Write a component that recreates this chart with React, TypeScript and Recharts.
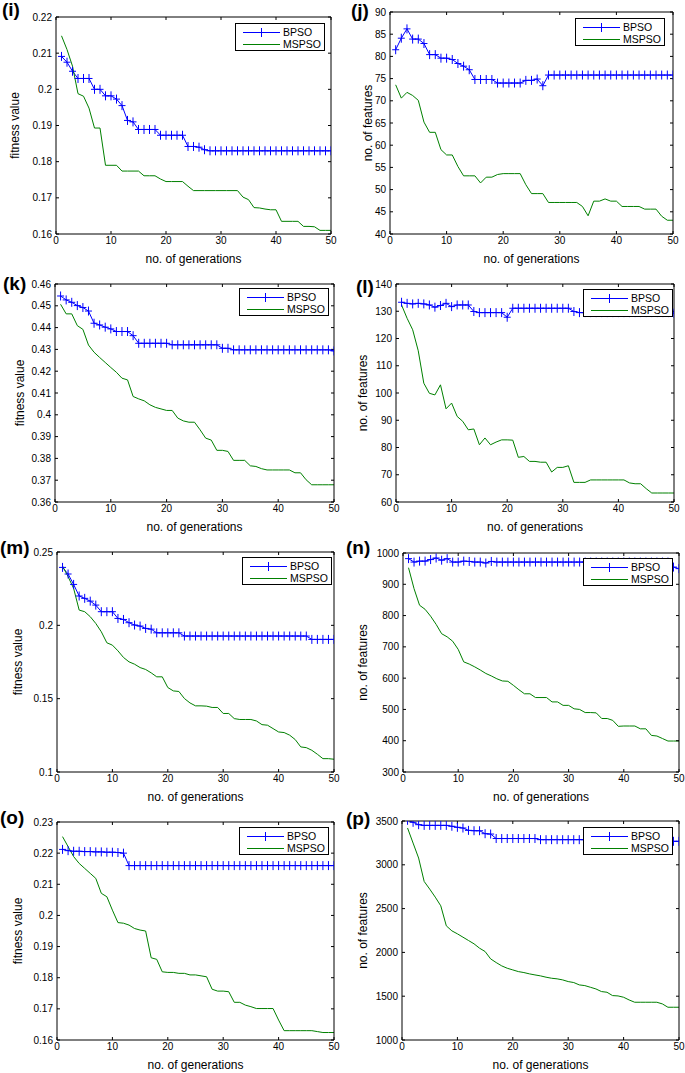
import { LineChart, Line, XAxis, YAxis, Legend, Label } from "recharts";

const generations = [
  1, 2, 3, 4, 5, 6, 7, 8, 9, 10, 11, 12, 13, 14, 15, 16, 17, 18, 19, 20, 21, 22, 23, 24, 25,
  26, 27, 28, 29, 30, 31, 32, 33, 34, 35, 36, 37, 38, 39, 40, 41, 42, 43, 44, 45, 46, 47, 48, 49, 50,
];
const genTicks = [0, 10, 20, 30, 40, 50];

// (i) fitness value
const bpsoI = [
  0.2091, 0.2075, 0.205, 0.203, 0.203, 0.203, 0.2, 0.2, 0.1982, 0.1982,
  0.1973, 0.1955, 0.1914, 0.191, 0.1889, 0.1889, 0.1889, 0.1889, 0.1873, 0.1873,
  0.1873, 0.1873, 0.1873, 0.1842, 0.1842, 0.184, 0.1833, 0.183, 0.183, 0.183,
  0.183, 0.183, 0.183, 0.183, 0.183, 0.183, 0.183, 0.183, 0.183, 0.183,
  0.183, 0.183, 0.183, 0.183, 0.183, 0.183, 0.183, 0.183, 0.183, 0.183,
];
const mspsoI = [
  0.2148, 0.211, 0.2064, 0.1988, 0.1981, 0.1948, 0.1893, 0.1893, 0.179, 0.179,
  0.179, 0.1774, 0.1774, 0.1774, 0.1774, 0.1761, 0.1761, 0.1761, 0.1752, 0.1745,
  0.1745, 0.1745, 0.1745, 0.1732, 0.172, 0.172, 0.172, 0.172, 0.172, 0.172,
  0.172, 0.172, 0.172, 0.1702, 0.1695, 0.1673, 0.1672, 0.1669, 0.1667, 0.1667,
  0.1635, 0.1635, 0.1635, 0.1635, 0.1621, 0.1621, 0.162, 0.161, 0.161, 0.161,
];
const ticksI = [0.16, 0.17, 0.18, 0.19, 0.2, 0.21, 0.22];

// (j) no. of features
const bpsoJ = [
  81.5, 84.1, 86.2, 83.9, 83.9, 82.9, 80.4, 80.4, 79.6, 79.6,
  79.3, 78.4, 77.8, 77.0, 74.8, 74.8, 74.8, 74.8, 74.0, 74.0,
  74.0, 74.0, 74.0, 74.6, 74.6, 74.9, 73.4, 75.8, 75.8, 75.8,
  75.8, 75.8, 75.8, 75.8, 75.8, 75.8, 75.8, 75.8, 75.8, 75.8,
  75.8, 75.8, 75.8, 75.8, 75.8, 75.8, 75.8, 75.8, 75.8, 75.8,
];
const mspsoJ = [
  73.6, 70.6, 71.9, 71.2, 70.1, 65.2, 62.9, 62.9, 59.0, 57.8,
  57.8, 55.2, 53.1, 53.1, 53.1, 51.5, 52.8, 52.8, 53.4, 53.6,
  53.6, 53.6, 53.6, 51.1, 49.1, 49.1, 49.1, 47.1, 47.1, 47.1,
  47.1, 47.1, 47.1, 46.2, 44.1, 47.4, 47.4, 47.9, 47.4, 47.4,
  46.2, 46.2, 46.2, 46.2, 45.6, 45.6, 45.6, 44.0, 43.1, 43.1,
];
const ticksJ = [40, 45, 50, 55, 60, 65, 70, 75, 80, 85, 90];

// (k) fitness value
const bpsoK = [
  0.4545, 0.4527, 0.4516, 0.4501, 0.4492, 0.4476, 0.442, 0.4412, 0.4402, 0.4394,
  0.4382, 0.4382, 0.4382, 0.4363, 0.4328, 0.4328, 0.4328, 0.4328, 0.4328, 0.4328,
  0.4321, 0.4321, 0.4321, 0.4321, 0.4321, 0.4321, 0.4321, 0.4321, 0.4321, 0.4305,
  0.4305, 0.4298, 0.4298, 0.4298, 0.4298, 0.4298, 0.4298, 0.4298, 0.4298, 0.4298,
  0.4298, 0.4298, 0.4298, 0.4298, 0.4298, 0.4298, 0.4298, 0.4298, 0.4298, 0.4293,
];
const mspsoK = [
  0.4507, 0.4463, 0.4463, 0.4409, 0.4392, 0.432, 0.4287, 0.4263, 0.424, 0.4217,
  0.4195, 0.4168, 0.416, 0.4084, 0.4073, 0.4064, 0.4046, 0.4034, 0.4027, 0.402,
  0.402, 0.3985, 0.3972, 0.3966, 0.3966, 0.3931, 0.3893, 0.3884, 0.3837, 0.3837,
  0.3832, 0.3791, 0.3791, 0.3791, 0.3766, 0.3763, 0.3753, 0.3747, 0.3747, 0.3747,
  0.3747, 0.3747, 0.3734, 0.3734, 0.3702, 0.3679, 0.3679, 0.3679, 0.3679, 0.3679,
];
const ticksK = [0.36, 0.37, 0.38, 0.39, 0.4, 0.41, 0.42, 0.43, 0.44, 0.45, 0.46];

// (l) no. of features
const bpsoL = [
  133.3, 132.9, 132.7, 132.9, 132.7, 132.3, 131.5, 132.1, 132.9, 131.7,
  132.3, 132.3, 132.3, 129.9, 129.5, 129.5, 129.5, 129.5, 129.5, 127.8,
  131.1, 131.1, 131.1, 131.1, 131.1, 131.1, 131.1, 131.1, 131.1, 131.1,
  131.1, 129.9, 129.5, 129.5, 129.5, 129.5, 129.5, 129.5, 129.5, 129.5,
  129.5, 129.5, 129.5, 129.5, 129.5, 129.5, 129.5, 129.5, 129.5, 129.3,
];
const mspsoL = [
  132.3, 127.4, 123.2, 115.5, 103.6, 99.9, 99.3, 103.0, 94.2, 96.3,
  91.4, 89.6, 86.5, 86.8, 81.0, 83.5, 81.0, 82.0, 82.8, 82.8,
  82.7, 76.4, 76.7, 74.9, 74.9, 74.6, 74.6, 71.0, 72.7, 72.7,
  73.3, 67.2, 67.2, 67.2, 68.1, 68.1, 68.1, 68.1, 68.1, 68.1,
  68.1, 67.0, 66.7, 66.7, 64.9, 63.3, 63.3, 63.3, 63.3, 63.3,
];
const ticksL = [60, 70, 80, 90, 100, 110, 120, 130, 140];

// (m) fitness value
const bpsoM = [
  0.2395, 0.235, 0.2279, 0.22, 0.2184, 0.2165, 0.2138, 0.2093, 0.2093, 0.2093,
  0.2047, 0.204, 0.2018, 0.2002, 0.1995, 0.1979, 0.1974, 0.1949, 0.1949, 0.1949,
  0.1949, 0.1949, 0.1927, 0.1927, 0.1927, 0.1927, 0.1927, 0.1927, 0.1927, 0.1927,
  0.1927, 0.1927, 0.1927, 0.1927, 0.1927, 0.1927, 0.1927, 0.1927, 0.1927, 0.1927,
  0.1927, 0.1927, 0.1927, 0.1927, 0.1927, 0.1904, 0.1904, 0.1904, 0.1904, 0.1904,
];
const mspsoM = [
  0.2404, 0.2332, 0.2252, 0.2104, 0.2093, 0.2059, 0.2013, 0.1956, 0.1881, 0.1865,
  0.1826, 0.1781, 0.1751, 0.1735, 0.1712, 0.1699, 0.1676, 0.1649, 0.1649, 0.1576,
  0.1553, 0.1549, 0.1501, 0.1471, 0.1451, 0.1451, 0.1449, 0.144, 0.144, 0.1399,
  0.1399, 0.1364, 0.1358, 0.1358, 0.1358, 0.1348, 0.1323, 0.1319, 0.1296, 0.1273,
  0.1269, 0.1251, 0.1221, 0.1171, 0.1166, 0.1148, 0.1121, 0.1091, 0.1091, 0.1087,
];
const ticksM = [0.1, 0.15, 0.2, 0.25];

// (n) no. of features
const bpsoN = [
  982, 971, 974, 974, 979, 984, 977, 982, 971, 971,
  974, 973, 971, 971, 968, 973, 971, 971, 971, 971,
  971, 971, 971, 971, 971, 971, 971, 971, 971, 971,
  971, 971, 971, 971, 971, 971, 971, 971, 971, 971,
  971, 971, 971, 971, 971, 971, 971, 971, 955, 950,
];
const mspsoN = [
  953, 886, 833, 820, 798, 772, 742, 732, 718, 692,
  652, 645, 636, 626, 615, 607, 598, 591, 590, 577,
  563, 550, 550, 538, 538, 538, 524, 524, 513, 513,
  502, 500, 490, 490, 489, 471, 471, 465, 446, 447,
  447, 447, 438, 438, 417, 415, 407, 399, 399, 399,
];
const ticksN = [300, 400, 500, 600, 700, 800, 900, 1000];

// (o) fitness value
const bpsoO = [
  0.2212, 0.2208, 0.2206, 0.2206, 0.2205, 0.2205, 0.2204, 0.2204, 0.2203, 0.2203,
  0.2202, 0.22, 0.216, 0.216, 0.216, 0.216, 0.216, 0.216, 0.216, 0.216,
  0.216, 0.216, 0.216, 0.216, 0.216, 0.216, 0.216, 0.216, 0.216, 0.216,
  0.216, 0.216, 0.216, 0.216, 0.216, 0.216, 0.216, 0.216, 0.216, 0.216,
  0.216, 0.216, 0.216, 0.216, 0.216, 0.216, 0.216, 0.216, 0.216, 0.216,
];
const mspsoO = [
  0.2253, 0.2221, 0.2189, 0.2167, 0.2151, 0.2135, 0.2119, 0.2071, 0.206, 0.2017,
  0.1977, 0.1975, 0.1969, 0.1958, 0.1953, 0.195, 0.1864, 0.1859, 0.1819, 0.1817,
  0.1817, 0.1814, 0.1814, 0.1809, 0.1809, 0.1806, 0.1803, 0.1763, 0.1757, 0.1757,
  0.1755, 0.1721, 0.1721, 0.1712, 0.1707, 0.1701, 0.1701, 0.1701, 0.1701, 0.1664,
  0.163, 0.163, 0.163, 0.163, 0.163, 0.163, 0.1627, 0.1624, 0.1624, 0.1624,
];
const ticksO = [0.16, 0.17, 0.18, 0.19, 0.2, 0.21, 0.22, 0.23];

// (p) no. of features
const bpsoP = [
  3508, 3485, 3458, 3450, 3450, 3450, 3450, 3450, 3440, 3428,
  3420, 3393, 3389, 3389, 3355, 3351, 3300, 3300, 3300, 3300,
  3300, 3300, 3300, 3300, 3287, 3287, 3287, 3287, 3287, 3287,
  3287, 3287, 3287, 3287, 3287, 3287, 3287, 3287, 3287, 3287,
  3287, 3287, 3287, 3287, 3287, 3287, 3270, 3268, 3268, 3268,
];
const mspsoP = [
  3420, 3248, 3077, 2810, 2723, 2631, 2532, 2303, 2246, 2212,
  2174, 2136, 2098, 2048, 2010, 1926, 1884, 1846, 1819, 1800,
  1781, 1770, 1755, 1743, 1732, 1717, 1705, 1698, 1686, 1667,
  1656, 1629, 1621, 1602, 1583, 1553, 1545, 1507, 1503, 1488,
  1457, 1431, 1431, 1431, 1431, 1431, 1412, 1374, 1374, 1374,
];
const ticksP = [1000, 1500, 2000, 2500, 3000, 3500];

const FONT = '"Liberation Sans", Arial, Helvetica, sans-serif';
const BLUE = "#0000ff";
const GREEN = "#008000";
const AXIS = "#000";

const fmt = (v: number) => String(Number(v.toFixed(4)));
const blank = () => "";

const PlusDot = (props: any) => {
  const { cx, cy, index } = props;
  if (cx == null || cy == null) return <g key={`p-${index}`} />;
  return (
    <path
      key={`p-${index}`}
      d={`M${cx - 3.5},${cy}H${cx + 3.5}M${cx},${cy - 4.5}V${cy + 4.5}`}
      stroke={BLUE}
      strokeWidth={1}
      fill="none"
    />
  );
};

// legend drawn with plain boxes so the sample lines stay crisp
const swatch = (top: number, color: string) => ({
  position: "absolute" as const,
  left: 7,
  top,
  width: 37,
  height: 1,
  background: color,
});

const LegendBox = () => (
  <div
    style={{
      position: "relative",
      width: 88,
      height: 26,
      border: "1px solid #000",
      background: "#fff",
      fontFamily: FONT,
      fontSize: 10.5,
      color: "#000",
      lineHeight: "12px",
    }}
  >
    <div style={swatch(8, BLUE)} />
    <div style={{ position: "absolute", left: 25, top: 4, width: 1, height: 9, background: BLUE }} />
    <div style={{ position: "absolute", left: 47, top: 2 }}>BPSO</div>
    <div style={swatch(20, GREEN)} />
    <div style={{ position: "absolute", left: 47, top: 14 }}>MSPSO</div>
  </div>
);

interface PanelProps {
  tag: string;
  L: number;
  R: number;
  T: number;
  B: number;
  bpso: number[];
  mspso: number[];
  yTicks: number[];
  yTitle: string;
  yGap: number;
  legR: number;
  legT: number;
  tagX: number;
  tagY: number;
}

const ML = 50;
const MT = 4;
const MR = 6;
const MB = 32;

const Panel = ({ tag, L, R, T, B, bpso, mspso, yTicks, yTitle, yGap, legR, legT, tagX, tagY }: PanelProps) => {
  const plotW = R - L;
  const plotH = B - T;
  const width = plotW + ML + MR;
  const height = plotH + MT + MB;
  const data = generations.map((g, i) => ({ gen: g, bpso: bpso[i], mspso: mspso[i] }));
  const yDomain = [yTicks[0], yTicks[yTicks.length - 1]];
  const tickStyle = { fontSize: 10, fill: "#000", fontFamily: FONT };

  return (
    <>
      <div
        style={{
          position: "absolute",
          left: tagX,
          top: tagY,
          fontFamily: FONT,
          fontWeight: "bold",
          fontSize: 19,
          lineHeight: "19px",
        }}
      >
        ({tag})
      </div>
      <div style={{ position: "absolute", left: L - ML, top: T - MT, width, height }}>
        <LineChart width={width} height={height} data={data} margin={{ top: MT - 1, right: MR - 1, bottom: 0, left: 0 }}>
          <XAxis
            xAxisId="b"
            dataKey="gen"
            type="number"
            domain={[0, 50]}
            allowDataOverflow
            ticks={genTicks}
            interval={0}
            height={MB}
            tickSize={-3}
            tickMargin={6}
            axisLine={{ stroke: AXIS }}
            tickLine={{ stroke: AXIS }}
            tick={tickStyle}
          >
            <Label
              content={() => (
                <text
                  x={ML + plotW / 2}
                  y={MT + plotH + 25}
                  textAnchor="middle"
                  dominantBaseline="central"
                  fontSize={12}
                  fontFamily={FONT}
                  fill="#000"
                >
                  no. of generations
                </text>
              )}
            />
          </XAxis>
          <XAxis
            xAxisId="t"
            orientation="top"
            dataKey="gen"
            type="number"
            domain={[0, 50]}
            allowDataOverflow
            ticks={genTicks}
            interval={0}
            height={1}
            tickSize={-3}
            tickFormatter={blank}
            axisLine={{ stroke: AXIS }}
            tickLine={{ stroke: AXIS }}
          />
          <YAxis
            yAxisId="l"
            type="number"
            domain={yDomain}
            allowDataOverflow
            ticks={yTicks}
            interval={0}
            width={ML}
            tickSize={-3}
            tickMargin={7}
            tickFormatter={fmt}
            axisLine={{ stroke: AXIS }}
            tickLine={{ stroke: AXIS }}
            tick={tickStyle}
          >
            <Label
              content={() => {
                const cx = ML - yGap;
                const cy = MT + plotH / 2;
                return (
                  <text
                    x={cx}
                    y={cy}
                    transform={`rotate(-90, ${cx}, ${cy})`}
                    textAnchor="middle"
                    dominantBaseline="central"
                    fontSize={12}
                    fontFamily={FONT}
                    fill="#000"
                  >
                    {yTitle}
                  </text>
                );
              }}
            />
          </YAxis>
          <YAxis
            yAxisId="r"
            orientation="right"
            type="number"
            domain={yDomain}
            allowDataOverflow
            ticks={yTicks}
            interval={0}
            width={1}
            tickSize={-3}
            tickFormatter={blank}
            axisLine={{ stroke: AXIS }}
            tickLine={{ stroke: AXIS }}
          />
          <Line
            xAxisId="b"
            yAxisId="l"
            type="linear"
            dataKey="bpso"
            name="BPSO"
            stroke={BLUE}
            strokeWidth={1}
            dot={PlusDot}
            activeDot={false}
            isAnimationActive={false}
          />
          <Line
            xAxisId="b"
            yAxisId="l"
            type="linear"
            dataKey="mspso"
            name="MSPSO"
            stroke={GREEN}
            strokeWidth={1}
            dot={false}
            activeDot={false}
            isAnimationActive={false}
          />
          <Legend
            layout="vertical"
            align="center"
            verticalAlign="middle"
            content={LegendBox}
            wrapperStyle={{ left: ML + plotW - legR - 90, top: MT + legT, width: 90, height: 28 }}
          />
        </LineChart>
      </div>
    </>
  );
};

const FIT = "fitness value";
const FEAT = "no. of features";

export default function App() {
  return (
    <div style={{ position: "absolute", left: 0, top: 0, width: 685, height: 1073, background: "#fff" }}>
      <Panel tag="i" L={56} R={331} T={17} B={234} bpso={bpsoI} mspso={mspsoI} yTicks={ticksI} yTitle={FIT} yGap={41} legR={6} legT={6} tagX={2} tagY={0} />
      <Panel tag="j" L={390} R={673} T={12} B={234} bpso={bpsoJ} mspso={mspsoJ} yTicks={ticksJ} yTitle={FEAT} yGap={22} legR={8} legT={6} tagX={351} tagY={1} />
      <Panel tag="k" L={55} R={334} T={284} B={502} bpso={bpsoK} mspso={mspsoK} yTicks={ticksK} yTitle={FIT} yGap={35} legR={5} legT={4} tagX={3} tagY={274} />
      <Panel tag="l" L={396} R={674} T={284} B={502} bpso={bpsoL} mspso={mspsoL} yTicks={ticksL} yTitle={FEAT} yGap={33} legR={1} legT={5} tagX={356} tagY={277} />
      <Panel tag="m" L={57} R={334} T={552} B={772} bpso={bpsoM} mspso={mspsoM} yTicks={ticksM} yTitle={FIT} yGap={39} legR={2} legT={5} tagX={0} tagY={538} />
      <Panel tag="n" L={403} R={679} T={553} B={772} bpso={bpsoN} mspso={mspsoN} yTicks={ticksN} yTitle={FEAT} yGap={40} legR={6} legT={5} tagX={346} tagY={538} />
      <Panel tag="o" L={57} R={334} T={822} B={1040} bpso={bpsoO} mspso={mspsoO} yTicks={ticksO} yTitle={FIT} yGap={39} legR={5} legT={5} tagX={0} tagY={808} />
      <Panel tag="p" L={402} R={679} T={821} B={1040} bpso={bpsoP} mspso={mspsoP} yTicks={ticksP} yTitle={FEAT} yGap={39} legR={6} legT={6} tagX={346} tagY={809} />
    </div>
  );
}
